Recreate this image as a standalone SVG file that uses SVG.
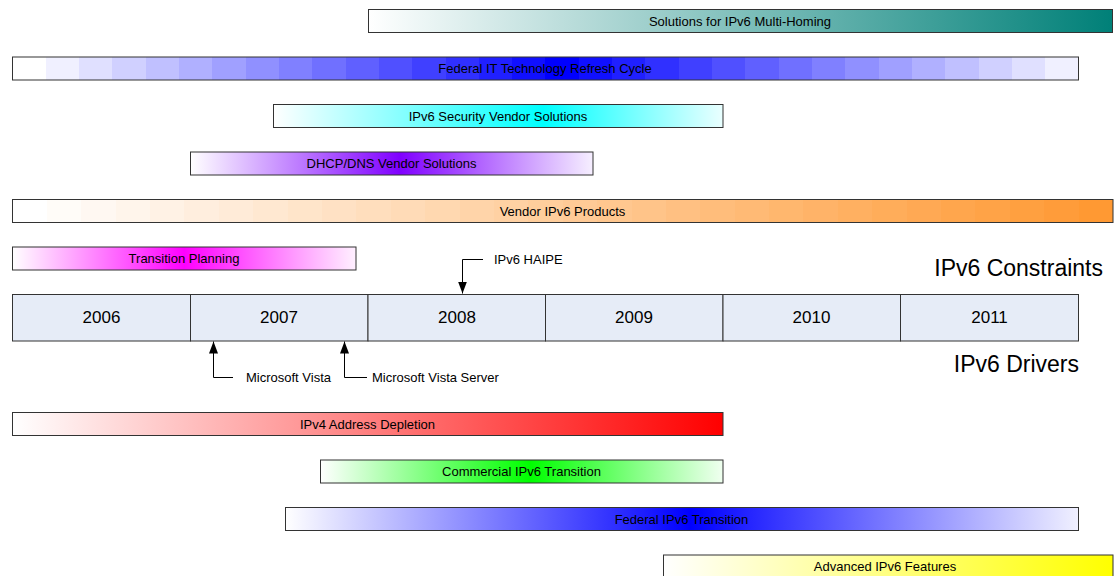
<svg xmlns="http://www.w3.org/2000/svg" width="1114" height="576" viewBox="0 0 1114 576">
<style>
.bar{stroke:#333;stroke-width:1}
.lbl{font-family:"Liberation Sans",Arial,sans-serif;font-size:13px;fill:#000;text-anchor:middle}
.yr{font-family:"Liberation Sans",Arial,sans-serif;font-size:17px;fill:#000;text-anchor:middle}
.note{font-family:"Liberation Sans",Arial,sans-serif;font-size:13px;fill:#000}
.big{font-family:"Liberation Sans",Arial,sans-serif;font-size:23px;fill:#000;text-anchor:end}
.cell{fill:#e6ecf7;stroke:#333;stroke-width:1}
.conn{fill:none;stroke:#000;stroke-width:1}
</style>
<defs>
<marker id="arr" markerUnits="userSpaceOnUse" markerWidth="12" markerHeight="9" refX="12" refY="4.5" orient="auto">
<path d="M0,0 L12,4.5 L0,9 z" fill="#000"/>
</marker>
<linearGradient id="gTeal" x1="0" y1="0" x2="1" y2="0"><stop offset="0" stop-color="#fff"/><stop offset="1" stop-color="#008078"/></linearGradient>
<linearGradient id="gFedIT" x1="0" y1="0" x2="1" y2="0">
<stop offset="0" stop-color="#ffffff"/><stop offset=".03125" stop-color="#ffffff"/>
<stop offset=".03125" stop-color="#f0f0ff"/><stop offset=".0625" stop-color="#f0f0ff"/>
<stop offset=".0625" stop-color="#e0e0ff"/><stop offset=".09375" stop-color="#e0e0ff"/>
<stop offset=".09375" stop-color="#d0d0ff"/><stop offset=".125" stop-color="#d0d0ff"/>
<stop offset=".125" stop-color="#c0c0ff"/><stop offset=".15625" stop-color="#c0c0ff"/>
<stop offset=".15625" stop-color="#b0b0ff"/><stop offset=".1875" stop-color="#b0b0ff"/>
<stop offset=".1875" stop-color="#a0a0ff"/><stop offset=".21875" stop-color="#a0a0ff"/>
<stop offset=".21875" stop-color="#9090ff"/><stop offset=".25" stop-color="#9090ff"/>
<stop offset=".25" stop-color="#8080ff"/><stop offset=".28125" stop-color="#8080ff"/>
<stop offset=".28125" stop-color="#7070ff"/><stop offset=".3125" stop-color="#7070ff"/>
<stop offset=".3125" stop-color="#6060ff"/><stop offset=".34375" stop-color="#6060ff"/>
<stop offset=".34375" stop-color="#5050ff"/><stop offset=".375" stop-color="#5050ff"/>
<stop offset=".375" stop-color="#4040ff"/><stop offset=".40625" stop-color="#4040ff"/>
<stop offset=".40625" stop-color="#3030ff"/><stop offset=".4375" stop-color="#3030ff"/>
<stop offset=".4375" stop-color="#2020ff"/><stop offset=".46875" stop-color="#2020ff"/>
<stop offset=".46875" stop-color="#1010ff"/><stop offset=".5" stop-color="#1010ff"/>
<stop offset=".5" stop-color="#0000ff"/><stop offset=".53125" stop-color="#0000ff"/>
<stop offset=".53125" stop-color="#1010ff"/><stop offset=".5625" stop-color="#1010ff"/>
<stop offset=".5625" stop-color="#2020ff"/><stop offset=".59375" stop-color="#2020ff"/>
<stop offset=".59375" stop-color="#3030ff"/><stop offset=".625" stop-color="#3030ff"/>
<stop offset=".625" stop-color="#4040ff"/><stop offset=".65625" stop-color="#4040ff"/>
<stop offset=".65625" stop-color="#5050ff"/><stop offset=".6875" stop-color="#5050ff"/>
<stop offset=".6875" stop-color="#6060ff"/><stop offset=".71875" stop-color="#6060ff"/>
<stop offset=".71875" stop-color="#7070ff"/><stop offset=".75" stop-color="#7070ff"/>
<stop offset=".75" stop-color="#8080ff"/><stop offset=".78125" stop-color="#8080ff"/>
<stop offset=".78125" stop-color="#9090ff"/><stop offset=".8125" stop-color="#9090ff"/>
<stop offset=".8125" stop-color="#a0a0ff"/><stop offset=".84375" stop-color="#a0a0ff"/>
<stop offset=".84375" stop-color="#b0b0ff"/><stop offset=".875" stop-color="#b0b0ff"/>
<stop offset=".875" stop-color="#c0c0ff"/><stop offset=".90625" stop-color="#c0c0ff"/>
<stop offset=".90625" stop-color="#d0d0ff"/><stop offset=".9375" stop-color="#d0d0ff"/>
<stop offset=".9375" stop-color="#e0e0ff"/><stop offset=".96875" stop-color="#e0e0ff"/>
<stop offset=".96875" stop-color="#f0f0ff"/><stop offset="1" stop-color="#f0f0ff"/>
</linearGradient>
<linearGradient id="gOrange" x1="0" y1="0" x2="1" y2="0">
<stop offset="0" stop-color="#ffffff"/><stop offset=".03125" stop-color="#ffffff"/>
<stop offset=".03125" stop-color="#fffcf8"/><stop offset=".0625" stop-color="#fffcf8"/>
<stop offset=".0625" stop-color="#fff8f2"/><stop offset=".09375" stop-color="#fff8f2"/>
<stop offset=".09375" stop-color="#fff5eb"/><stop offset=".125" stop-color="#fff5eb"/>
<stop offset=".125" stop-color="#fff2e5"/><stop offset=".15625" stop-color="#fff2e5"/>
<stop offset=".15625" stop-color="#ffeede"/><stop offset=".1875" stop-color="#ffeede"/>
<stop offset=".1875" stop-color="#ffebd8"/><stop offset=".21875" stop-color="#ffebd8"/>
<stop offset=".21875" stop-color="#ffe8d1"/><stop offset=".25" stop-color="#ffe8d1"/>
<stop offset=".25" stop-color="#ffe5ca"/><stop offset=".28125" stop-color="#ffe5ca"/>
<stop offset=".28125" stop-color="#ffe1c4"/><stop offset=".3125" stop-color="#ffe1c4"/>
<stop offset=".3125" stop-color="#ffdebd"/><stop offset=".34375" stop-color="#ffdebd"/>
<stop offset=".34375" stop-color="#ffdbb7"/><stop offset=".375" stop-color="#ffdbb7"/>
<stop offset=".375" stop-color="#ffd8b0"/><stop offset=".40625" stop-color="#ffd8b0"/>
<stop offset=".40625" stop-color="#ffd4a9"/><stop offset=".4375" stop-color="#ffd4a9"/>
<stop offset=".4375" stop-color="#ffd1a3"/><stop offset=".46875" stop-color="#ffd1a3"/>
<stop offset=".46875" stop-color="#ffce9c"/><stop offset=".5" stop-color="#ffce9c"/>
<stop offset=".5" stop-color="#ffca96"/><stop offset=".53125" stop-color="#ffca96"/>
<stop offset=".53125" stop-color="#ffc78f"/><stop offset=".5625" stop-color="#ffc78f"/>
<stop offset=".5625" stop-color="#ffc489"/><stop offset=".59375" stop-color="#ffc489"/>
<stop offset=".59375" stop-color="#ffc082"/><stop offset=".625" stop-color="#ffc082"/>
<stop offset=".625" stop-color="#ffbd7b"/><stop offset=".65625" stop-color="#ffbd7b"/>
<stop offset=".65625" stop-color="#ffba75"/><stop offset=".6875" stop-color="#ffba75"/>
<stop offset=".6875" stop-color="#ffb76e"/><stop offset=".71875" stop-color="#ffb76e"/>
<stop offset=".71875" stop-color="#ffb368"/><stop offset=".75" stop-color="#ffb368"/>
<stop offset=".75" stop-color="#ffb061"/><stop offset=".78125" stop-color="#ffb061"/>
<stop offset=".78125" stop-color="#ffad5a"/><stop offset=".8125" stop-color="#ffad5a"/>
<stop offset=".8125" stop-color="#ffa954"/><stop offset=".84375" stop-color="#ffa954"/>
<stop offset=".84375" stop-color="#ffa64d"/><stop offset=".875" stop-color="#ffa64d"/>
<stop offset=".875" stop-color="#ffa347"/><stop offset=".90625" stop-color="#ffa347"/>
<stop offset=".90625" stop-color="#ffa040"/><stop offset=".9375" stop-color="#ffa040"/>
<stop offset=".9375" stop-color="#ff9c3a"/><stop offset=".96875" stop-color="#ff9c3a"/>
<stop offset=".96875" stop-color="#ff9933"/><stop offset="1" stop-color="#ff9933"/>
</linearGradient>
<linearGradient id="gCyan" x1="0" y1="0" x2="1" y2="0"><stop offset="0" stop-color="#fff"/><stop offset=".6" stop-color="#00ffff"/><stop offset="1" stop-color="#eaffff"/></linearGradient>
<linearGradient id="gPurple" x1="0" y1="0" x2="1" y2="0"><stop offset="0" stop-color="#fff"/><stop offset=".52" stop-color="#8000ff"/><stop offset="1" stop-color="#f6efff"/></linearGradient>
<linearGradient id="gMagenta" x1="0" y1="0" x2="1" y2="0"><stop offset="0" stop-color="#fff"/><stop offset=".5" stop-color="#ff00ff"/><stop offset="1" stop-color="#fff0ff"/></linearGradient>
<linearGradient id="gRed" x1="0" y1="0" x2="1" y2="0"><stop offset="0" stop-color="#fff"/><stop offset="1" stop-color="#ff0000"/></linearGradient>
<linearGradient id="gGreen" x1="0" y1="0" x2="1" y2="0"><stop offset="0" stop-color="#fff"/><stop offset=".52" stop-color="#00ff00"/><stop offset="1" stop-color="#f0fff0"/></linearGradient>
<linearGradient id="gBlue" x1="0" y1="0" x2="1" y2="0"><stop offset="0" stop-color="#fff"/><stop offset=".51" stop-color="#0000ff"/><stop offset="1" stop-color="#f0f0ff"/></linearGradient>
<linearGradient id="gYellow" x1="0" y1="0" x2="1" y2="0"><stop offset="0" stop-color="#fff"/><stop offset="1" stop-color="#ffff00"/></linearGradient>
</defs>
<rect width="1114" height="576" fill="#fff"/>

<g id="multihoming"><rect class="bar" x="368.5" y="9.5" width="744" height="23" fill="url(#gTeal)"/><text class="lbl" x="740" y="25.5">Solutions for IPv6 Multi-Homing</text></g>
<g id="fed-it-refresh"><rect class="bar" x="12.5" y="57" width="1066" height="23" fill="url(#gFedIT)"/><text class="lbl" x="545" y="73">Federal IT Technology Refresh Cycle</text></g>
<g id="security-vendor"><rect class="bar" x="273.5" y="104.5" width="449.5" height="23" fill="url(#gCyan)"/><text class="lbl" x="498" y="120.5">IPv6 Security Vendor Solutions</text></g>
<g id="dhcp-dns"><rect class="bar" x="190.5" y="152" width="402.5" height="23" fill="url(#gPurple)"/><text class="lbl" x="391.5" y="168">DHCP/DNS Vendor Solutions</text></g>
<g id="vendor-products"><rect class="bar" x="12.5" y="199.5" width="1100.5" height="23" fill="url(#gOrange)"/><text class="lbl" x="562.5" y="215.5">Vendor IPv6 Products</text></g>
<g id="transition-planning"><rect class="bar" x="12.5" y="247" width="343.5" height="23" fill="url(#gMagenta)"/><text class="lbl" x="184" y="263">Transition Planning</text></g>

<g id="timeline">
<rect class="cell" x="12.5" y="294.5" width="178" height="46.5"/>
<rect class="cell" x="190.5" y="294.5" width="177.5" height="46.5"/>
<rect class="cell" x="368" y="294.5" width="177.5" height="46.5"/>
<rect class="cell" x="545.5" y="294.5" width="177.5" height="46.5"/>
<rect class="cell" x="723" y="294.5" width="177.5" height="46.5"/>
<rect class="cell" x="900.5" y="294.5" width="178" height="46.5"/>
<text class="yr" x="101.5" y="323">2006</text>
<text class="yr" x="279" y="323">2007</text>
<text class="yr" x="457" y="323">2008</text>
<text class="yr" x="634" y="323">2009</text>
<text class="yr" x="811.5" y="323">2010</text>
<text class="yr" x="989.5" y="323">2011</text>
</g>

<g id="headings">
<text class="big" x="1103" y="276">IPv6 Constraints</text>
<text class="big" x="1079" y="372">IPv6 Drivers</text>
</g>

<g id="connectors">
<path class="conn" d="M483,259.5 H462.5 V293.5" marker-end="url(#arr)"/>
<path class="conn" d="M233,377.5 H213.5 V341.5" marker-end="url(#arr)"/>
<path class="conn" d="M367,377.5 H344.5 V341.5" marker-end="url(#arr)"/>
</g>
<g id="milestones">
<text class="note" x="494" y="263.5">IPv6 HAIPE</text>
<text class="note" x="246" y="382">Microsoft Vista</text>
<text class="note" x="372" y="382">Microsoft Vista Server</text>
</g>

<g id="ipv4-depletion"><rect class="bar" x="12.5" y="412.5" width="710.5" height="23" fill="url(#gRed)"/><text class="lbl" x="367.5" y="428.5">IPv4 Address Depletion</text></g>
<g id="commercial-transition"><rect class="bar" x="320.5" y="460" width="402.5" height="23" fill="url(#gGreen)"/><text class="lbl" x="521.5" y="476">Commercial IPv6 Transition</text></g>
<g id="federal-transition"><rect class="bar" x="285.5" y="507.5" width="793" height="23" fill="url(#gBlue)"/><text class="lbl" x="681.5" y="523.5">Federal IPv6 Transition</text></g>
<g id="advanced-features"><rect class="bar" x="663.5" y="555" width="449.5" height="23" fill="url(#gYellow)"/><text class="lbl" x="885" y="571">Advanced IPv6 Features</text></g>
</svg>
